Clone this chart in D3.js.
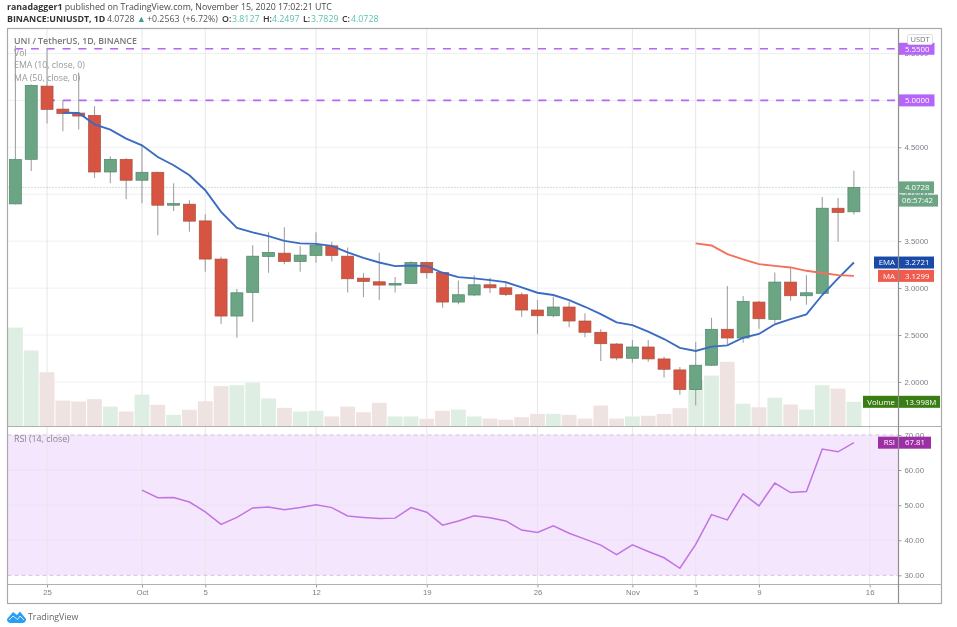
<!DOCTYPE html>
<html>
<head>
<meta charset="utf-8">
<script src="https://cdn.jsdelivr.net/npm/d3@7"></script>
<style>
  html, body { margin: 0; padding: 0; background: #fff; }
  svg { display: block; filter: blur(0.55px); font-family: "Open Sans", sans-serif; }
  .axis text { fill: #7b7e88; font-size: 7.8px; }
  .axis line { stroke: #9a9a9a; }
  .axis path { display: none; }
</style>
</head>
<body>
<script>
const width = 957;
const height = 627;

// first candle is 23 Sep 2020, one per day up to 15 Nov
const firstDay = Date.UTC(2020, 8, 23);
const dayMs = 86400000;

const opens = [3.897,4.372,5.152,4.907,4.865,4.840,4.237,4.372,4.149,4.234,
  3.883,3.894,3.716,3.309,2.702,2.954,3.337,3.372,3.284,3.348,
  3.450,3.340,3.106,3.067,3.032,3.050,3.273,3.167,2.851,2.926,
  3.035,3.003,2.929,2.766,2.705,2.798,2.649,2.529,2.404,2.252,
  2.372,2.245,2.128,1.918,2.178,2.561,2.468,2.851,2.667,3.064,
  2.918,2.944,3.851,3.8127];
const highs = [5.585,5.170,5.553,5.000,5.298,4.939,4.404,4.383,4.521,4.239,
  4.117,3.936,3.787,3.333,2.989,3.457,3.596,3.649,3.447,3.596,
  3.493,3.433,3.160,3.376,3.117,3.287,3.280,3.173,3.082,3.138,
  3.110,3.067,2.954,2.872,2.907,2.854,2.731,2.561,2.415,2.447,
  2.447,2.269,2.160,2.426,2.684,3.021,2.915,2.862,3.167,3.210,
  3.138,3.971,3.961,4.2497];
const lows = [3.890,4.248,4.755,4.670,4.691,4.173,4.117,3.947,3.904,3.564,
  3.822,3.599,3.173,2.617,2.471,2.638,3.163,3.255,3.173,3.269,
  3.284,2.954,2.904,2.872,2.954,3.043,3.099,2.790,2.827,2.915,
  2.947,2.915,2.695,2.511,2.688,2.582,2.476,2.223,2.231,2.205,
  2.216,2.046,1.862,1.748,2.170,2.404,2.418,2.567,2.624,2.865,
  2.822,2.942,3.493,3.7829];
const closes = [4.369,5.160,4.904,4.859,4.833,4.237,4.372,4.149,4.234,3.883,
  3.901,3.713,3.309,2.702,2.950,3.340,3.380,3.284,3.351,3.454,
  3.348,3.099,3.071,3.032,3.050,3.273,3.163,2.851,2.929,3.035,
  3.003,2.933,2.766,2.705,2.798,2.649,2.529,2.407,2.255,2.372,
  2.245,2.135,1.918,2.178,2.561,2.468,2.859,2.673,3.064,2.918,
  2.950,3.851,3.805,4.0728];
const volumes = [56.1,43.1,30.8,14.7,14.2,15.5,11.3,8.5,18.1,12.3,
  6.6,9.5,14.3,22.9,23.4,24.9,15.9,10.6,8.5,8.9,
  5.7,11.3,8.1,13.4,5.7,5.7,4.4,8.9,9.6,5.7,
  4.5,3.8,5.3,7.2,7.2,6.6,4.5,11.9,4.5,5.7,
  6.1,7.2,10.4,26.1,28.9,36.7,12.9,10.9,16.3,12.5,
  9.6,23.4,21.5,13.998];

// EMA starts on candle 3, MA on candle 43, RSI on candle 8
const emaStart = 3;
const emaValues = [4.869,4.865,4.745,4.688,4.593,4.521,4.397,4.309,4.202,4.043,
  3.812,3.641,3.593,3.553,3.503,3.476,3.471,3.450,3.380,3.322,
  3.273,3.234,3.241,3.234,3.163,3.117,3.103,3.085,3.064,3.007,
  2.950,2.926,2.872,2.801,2.723,2.635,2.606,2.535,2.457,2.362,
  2.330,2.376,2.390,2.471,2.511,2.614,2.670,2.720,2.926,3.103,3.2721];
const maStart = 43;
const maValues = [3.476,3.454,3.362,3.305,3.255,3.237,3.220,3.184,3.160,3.138,3.1299];
const rsiStart = 8;
const rsiValues = [54.3,52.1,52.2,50.9,48.1,44.5,46.5,49.2,49.5,48.7,
  49.3,50.1,49.3,46.9,46.5,46.2,46.3,49.3,48.0,44.3,
  45.5,47.0,46.4,45.5,42.9,42.2,44.1,42.0,40.3,38.6,
  35.9,38.7,36.8,35.0,32.0,38.8,47.3,45.8,53.2,49.8,
  56.3,53.6,53.9,66.0,65.2,67.81];

const priceTicks = [5.5, 5, 4.5, 4, 3.5, 3, 2.5, 2];
const rsiTicks = [70, 60, 50, 40, 30];
const timeTicks = [
  [Date.UTC(2020, 8, 25), "25"], [Date.UTC(2020, 9, 1), "Oct"], [Date.UTC(2020, 9, 5), "5"],
  [Date.UTC(2020, 9, 12), "12"], [Date.UTC(2020, 9, 19), "19"], [Date.UTC(2020, 9, 26), "26"],
  [Date.UTC(2020, 10, 1), "Nov"], [Date.UTC(2020, 10, 5), "5"], [Date.UTC(2020, 10, 9), "9"],
  [Date.UTC(2020, 10, 16), "16"]
];
const levels = [5.55, 5];

const frameLeft = 7.5, axisX = 898.5, frameRight = 941.5;
const frameTop = 28.5, paneBottom = 426.5, timeTop = 584.5, frameBottom = 603.5;

const x = d3.scaleUtc()
  .domain([firstDay - dayMs / 2, Date.UTC(2020, 10, 17, 19, 40)])
  .range([frameLeft, axisX]);
const yPrice = d3.scaleLinear().domain([1.525, 5.766]).range([paneBottom, frameTop]);
const yVol = d3.scaleLinear().domain([0, 225.7]).range([paneBottom, frameTop]);
const yRsi = d3.scaleLinear().domain([30, 70]).range([575.3, 435]);
const dayX = (i) => x(firstDay + i * dayMs);

const svg = d3.select("body").append("svg").attr("width", width).attr("height", height);

// header, pieces of the second line sit at fixed x like the original
svg.append("text").attr("x", 7).attr("y", 9.5).attr("font-size", 8.8).attr("fill", "#4a4a4a")
  .html('<tspan font-weight="700" fill="#333">ranadagger1</tspan> published on TradingView.com, November 15, 2020 17:02:21 UTC');
const teal = "#5cc2b4", ink = "#333", gray = "#555";
const headerBits = [
  ["BINANCE:UNIUSDT, 1D", 7, ink, 700], ["4.0728", 107, gray, 400], ["▲", 137, "#3d9e8f", 400],
  ["+0.2563", 147, gray, 400], ["(+6.72%)", 183, gray, 400],
  ["O:", 222, ink, 600], ["3.8127", 232, teal, 400], ["H:", 263, ink, 600], ["4.2497", 272, teal, 400],
  ["L:", 303, ink, 600], ["3.7829", 311, teal, 400], ["C:", 342, ink, 600], ["4.0728", 351, teal, 400]
];
svg.append("g").selectAll("text").data(headerBits).enter().append("text")
  .attr("x", (d) => d[1]).attr("y", 21.5).attr("font-size", 8.8)
  .attr("fill", (d) => d[2]).attr("font-weight", (d) => d[3]).text((d) => d[0]);

// rsi band goes under the grid
svg.append("rect").attr("x", frameLeft).attr("width", axisX - frameLeft)
  .attr("y", yRsi(70)).attr("height", yRsi(30) - yRsi(70)).attr("fill", "#f4e6fd");

// grid
const grid = svg.append("g").attr("stroke", "#eef0f3").attr("fill", "none");
grid.selectAll("line.h").data(priceTicks).enter().append("line").attr("class", "h")
  .attr("x1", frameLeft).attr("x2", axisX).attr("y1", (d) => yPrice(d)).attr("y2", (d) => yPrice(d));
grid.selectAll("line.r").data([60, 50, 40]).enter().append("line").attr("class", "r")
  .attr("stroke", "#ecdff5")
  .attr("x1", frameLeft).attr("x2", axisX).attr("y1", (d) => yRsi(d)).attr("y2", (d) => yRsi(d));
grid.selectAll("line.v").data(timeTicks).enter().append("line").attr("class", "v")
  .attr("stroke", "#e6e6ea")
  .attr("x1", (d) => x(d[0])).attr("x2", (d) => x(d[0])).attr("y1", frameTop).attr("y2", timeTop);

// rsi limits
svg.selectAll("line.lim").data([70, 30]).enter().append("line").attr("class", "lim")
  .attr("x1", frameLeft).attr("x2", axisX).attr("y1", (d) => yRsi(d)).attr("y2", (d) => yRsi(d))
  .attr("stroke", "#d6bfdf").attr("stroke-dasharray", "4 3");

// volume
svg.append("g").selectAll("rect").data(volumes).enter().append("rect")
  .attr("x", (d, i) => dayX(i) - 7.4).attr("width", 14.8)
  .attr("y", (d) => yVol(d)).attr("height", (d) => yVol(0) - yVol(d))
  .attr("fill", (d, i) => closes[i] >= opens[i] ? "#dfeee3" : "#efe3e2");

// horizontal levels and last price
svg.append("g").selectAll("line").data(levels).enter().append("line")
  .attr("x1", (d, i) => i == 0 ? 15 : 47).attr("x2", axisX)
  .attr("y1", (d) => yPrice(d)).attr("y2", (d) => yPrice(d))
  .attr("stroke", "#b565f7").attr("stroke-width", 1.7).attr("stroke-dasharray", "8 7.85");
svg.append("line").attr("x1", frameLeft).attr("x2", axisX)
  .attr("y1", yPrice(4.0728)).attr("y2", yPrice(4.0728))
  .attr("stroke", "#9cc7ae").attr("stroke-dasharray", "1 2");

// candles
const candles = svg.append("g").selectAll("g").data(opens).enter().append("g");
candles.append("line")
  .attr("x1", (d, i) => dayX(i)).attr("x2", (d, i) => dayX(i))
  .attr("y1", (d, i) => yPrice(highs[i])).attr("y2", (d, i) => yPrice(lows[i]))
  .attr("stroke", "#a2a2a4").attr("stroke-width", 1.1);
candles.append("rect")
  .attr("x", (d, i) => dayX(i) - 6).attr("width", 12)
  .attr("y", (d, i) => yPrice(Math.max(d, closes[i])))
  .attr("height", (d, i) => Math.max(1, Math.abs(yPrice(d) - yPrice(closes[i]))))
  .attr("fill", (d, i) => closes[i] >= d ? "#6ba583" : "#d75442")
  .attr("stroke", (d, i) => closes[i] >= d ? "#4f8768" : "#a8503f")
  .attr("stroke-width", 0.7);

// indicator lines
const priceLine = (start) => d3.line().x((d, i) => dayX(i + start)).y((d) => yPrice(d));
svg.append("path").attr("d", priceLine(emaStart)(emaValues))
  .attr("fill", "none").attr("stroke", "#3a6cc2").attr("stroke-width", 1.9);
svg.append("path").attr("d", priceLine(maStart)(maValues))
  .attr("fill", "none").attr("stroke", "#f2705c").attr("stroke-width", 1.9);
const rsiLine = d3.line().x((d, i) => dayX(i + rsiStart)).y((d) => yRsi(d));
svg.append("path").attr("d", rsiLine(rsiValues))
  .attr("fill", "none").attr("stroke", "#c273e2").attr("stroke-width", 1.5);

// pane legends
const legend = [["UNI / TetherUS, 1D, BINANCE", 44, "#777"], ["Vol", 56, "#999"],
  ["EMA (10, close, 0)", 68.3, "#999"], ["MA (50, close, 0)", 80.5, "#999"], ["RSI (14, close)", 442, "#888"]];
svg.append("g").selectAll("text").data(legend).enter().append("text")
  .attr("x", 14).attr("y", (d) => d[1]).attr("font-size", 8.8).attr("fill", (d) => d[2])
  .attr("font-weight", (d, i) => i == 0 ? 600 : 400).text((d) => d[0]);

// axes
svg.append("g").attr("class", "axis").attr("transform", "translate(" + axisX + ",0)")
  .call(d3.axisRight(yPrice).tickValues(priceTicks).tickSize(3).tickPadding(3).tickFormat(d3.format(".4f")));
svg.append("g").attr("class", "axis").attr("transform", "translate(" + axisX + ",0)")
  .call(d3.axisRight(yRsi).tickValues(rsiTicks).tickSize(3).tickPadding(3).tickFormat(d3.format(".2f")));
svg.append("g").attr("class", "axis").attr("transform", "translate(0," + timeTop + ")")
  .call(d3.axisBottom(x).tickValues(timeTicks.map((d) => d[0])).tickSize(3).tickPadding(2)
    .tickFormat((d, i) => timeTicks[i][1]));

// frame
svg.append("rect").attr("x", frameLeft).attr("y", frameTop).attr("width", frameRight - frameLeft).attr("height", frameBottom - frameTop)
  .attr("fill", "none").attr("stroke", "#a9a9a9").attr("stroke-width", 1.2);
const rules = [[frameLeft, paneBottom, frameRight, paneBottom], [frameLeft, timeTop, frameRight, timeTop]];
svg.append("g").selectAll("line").data(rules).enter().append("line")
  .attr("x1", (d) => d[0]).attr("y1", (d) => d[1]).attr("x2", (d) => d[2]).attr("y2", (d) => d[3])
  .attr("stroke", "#b0b0b0").attr("stroke-width", 1.2);

// value tags on the price scale: name left of the axis, value right of it
function tag(y, x0, x1, name, value, fill, textX) {
  const g = svg.append("g");
  g.append("rect").attr("x", x0).attr("y", y - 6).attr("width", x1 - x0).attr("height", 12).attr("fill", fill);
  if (name) {
    g.append("text").attr("x", 895).attr("y", y + 2.8).attr("text-anchor", "end")
      .attr("font-size", 7.8).attr("fill", "#fff").text(name);
  }
  g.append("text").attr("x", textX || 905).attr("y", y + 2.8)
    .attr("font-size", 7.8).attr("fill", "#fff").text(value);
}
tag(yPrice(5.55), 899, 934.5, "", "5.5500", "#b565f7");
tag(yPrice(5), 899, 934.5, "", "5.0000", "#b565f7");
tag(yPrice(4.0728), 899, 934, "", "4.0728", "#6ba583");
tag(yPrice(4.0728) + 13.2, 899, 938, "", "06:57:42", "#6ba583", 902);
tag(yPrice(3.2721), 874, 934, "EMA", "3.2721", "#1a4aa8");
tag(yPrice(3.1299), 878, 934, "MA", "3.1299", "#ef5b4c");
tag(yVol(13.998), 863, 940, "Volume", "13.998M", "#3a7d14");
tag(yRsi(67.81), 878, 931, "RSI", "67.81", "#9b2fa3");

svg.append("line").attr("x1", axisX).attr("x2", axisX).attr("y1", frameTop).attr("y2", frameBottom)
  .attr("stroke", "#8f8f8f").attr("stroke-width", 1.2);

// currency chip
svg.append("rect").attr("x", 907.5).attr("y", 34.5).attr("width", 25).attr("height", 10).attr("rx", 2)
  .attr("fill", "#fff").attr("stroke", "#ddd");
svg.append("text").attr("x", 920).attr("y", 42.3).attr("text-anchor", "middle")
  .attr("font-size", 7.5).attr("fill", "#777").text("USDT");

// logo
svg.append("path").attr("fill", "#2b9df3")
  .attr("d", "M7 619 L13 612 L17 615 L20 611.5 L26 619 Q26 623 22 623 L11 623 Q7 623 7 619 Z");
svg.append("path").attr("fill", "none").attr("stroke", "#fff").attr("stroke-width", 0.8)
  .attr("d", "M9 620 L13 616 L17.5 619.5 L20 616 L24 620");
svg.append("text").attr("x", 28).attr("y", 620).attr("font-size", 8.8).attr("fill", "#666").text("TradingView");
</script>
</body>
</html>
